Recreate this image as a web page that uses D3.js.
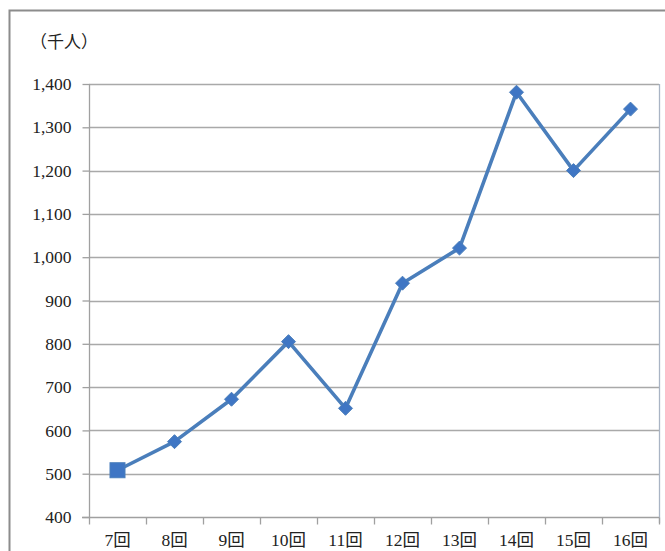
<!DOCTYPE html>
<html>
<head>
<meta charset="utf-8">
<script src="https://cdn.jsdelivr.net/npm/d3@7"></script>
<style>
  html, body { margin: 0; padding: 0; background: #fff; }
  svg { display: block; }
  text { font-family: "Liberation Serif", "DejaVu Serif", "Noto Sans CJK JP", serif; fill: #222; }
</style>
</head>
<body>
<svg id="chart" width="665" height="551"></svg>
<script>
// Visitors per session (thousands)
const categories = ["7回", "8回", "9回", "10回", "11回", "12回", "13回", "14回", "15回", "16回"];
const visitors = [508, 574, 672, 805, 651, 940, 1021, 1381, 1200, 1342];
const yTicks = [400, 500, 600, 700, 800, 900, 1000, 1100, 1200, 1300, 1400];
const unitLabel = "（千人）";

const svg = d3.select("#chart");
const W = 665, H = 551;
const plot = { left: 89, right: 659, top: 84, bottom: 517 };

// outer frame (top and left edges visible)
svg.append("path")
  .attr("d", `M9.5,${H} L9.5,10.5 L${W},10.5`)
  .attr("fill", "none")
  .attr("stroke", "#8c8c8c")
  .attr("stroke-width", 2);

const x = d3.scaleBand().domain(categories).range([plot.left, plot.right]).padding(0);
const y = d3.scaleLinear().domain([400, 1400]).range([plot.bottom, plot.top]);

// horizontal gridlines
svg.append("g").selectAll("line").data(yTicks.slice(1)).join("line")
  .attr("x1", plot.left).attr("x2", plot.right)
  .attr("y1", d => Math.round(y(d)) + 0.5).attr("y2", d => Math.round(y(d)) + 0.5)
  .attr("stroke", "#a9a9a9").attr("stroke-width", 1.3);

// right edge of the plot area
svg.append("line")
  .attr("x1", plot.right + 0.5).attr("x2", plot.right + 0.5)
  .attr("y1", plot.top).attr("y2", plot.bottom + 6)
  .attr("stroke", "#a9b4c4").attr("stroke-width", 1.3);

// y axis
const yAxis = d3.axisLeft(y).tickValues(yTicks).tickSize(7).tickPadding(11)
  .tickFormat(d3.format(","));
const gy = svg.append("g").attr("transform", `translate(${plot.left + 0.5},0)`).call(yAxis);
gy.select(".domain").attr("stroke", "#a0a0a0").attr("stroke-width", 1.3)
  .attr("d", `M0,${plot.top}V${plot.bottom}`);
gy.selectAll(".tick line").attr("stroke", "#a0a0a0").attr("stroke-width", 1.3);
gy.selectAll(".tick text").attr("font-size", 17.5).attr("fill", "#222")
  .style("font-family", "'Liberation Serif', serif");

// x axis
const xAxis = d3.axisBottom(x).tickSize(0).tickPadding(16);
const gx = svg.append("g").attr("transform", `translate(0,${Math.round(y(400)) + 0.5})`).call(xAxis);
gx.select(".domain").attr("stroke", "#a0a0a0").attr("stroke-width", 1.3)
  .attr("d", `M${plot.left - 7},0H${plot.right}`);
gx.selectAll(".tick text").attr("font-size", 17.5).attr("fill", "#222");
// category boundary ticks
gx.append("g").selectAll("line").data(categories.concat([null])).join("line")
  .attr("x1", (d, i) => Math.round(plot.left + i * x.bandwidth()) + 0.5)
  .attr("x2", (d, i) => Math.round(plot.left + i * x.bandwidth()) + 0.5)
  .attr("y1", 0).attr("y2", 7)
  .attr("stroke", "#a0a0a0").attr("stroke-width", 1.3);

// unit label
svg.append("text").attr("x", 30).attr("y", 48)
  .attr("font-size", 17).attr("fill", "#333")
  .style("font-family", "'Noto Sans CJK JP', sans-serif")
  .text(unitLabel);

// series line
const cx = d => x(d) + x.bandwidth() / 2;
const line = d3.line().x((d, i) => cx(categories[i])).y(d => y(d));
const blue = "#4a7ebb";
svg.append("path").datum(visitors)
  .attr("d", line)
  .attr("fill", "none").attr("stroke", blue)
  .attr("stroke-width", 3.6).attr("stroke-linejoin", "round");

// markers: first one square, rest diamonds
const mk = svg.append("g");
visitors.forEach((v, i) => {
  const px = cx(categories[i]), py = y(v);
  if (i === 0) {
    mk.append("rect").attr("x", px - 7.5).attr("y", py - 7.5)
      .attr("width", 15).attr("height", 15)
      .attr("fill", "#3f76c4").attr("stroke", blue).attr("stroke-width", 1);
  } else {
    const r = 7;
    mk.append("path")
      .attr("d", `M${px},${py - r}L${px + r},${py}L${px},${py + r}L${px - r},${py}Z`)
      .attr("fill", "#3f76c4").attr("stroke", blue).attr("stroke-width", 1);
  }
});
</script>
</body>
</html>
